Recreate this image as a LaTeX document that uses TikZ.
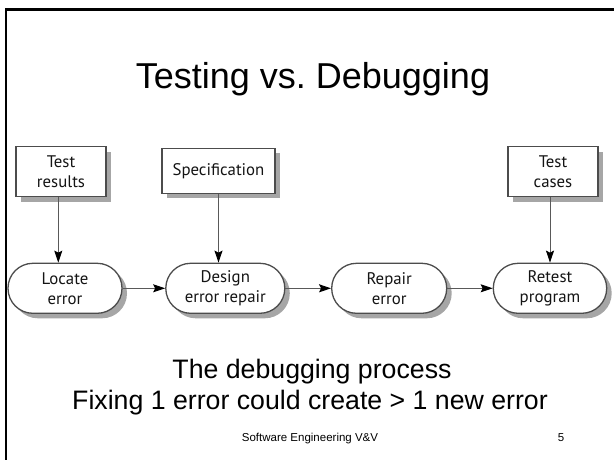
\documentclass[tikz,border=0pt]{standalone}
\usepackage{fontspec}
\setmainfont{Liberation Sans}
\newfontfamily\diagfont{PT Sans}
\usetikzlibrary{arrows.meta,shadows}
\begin{document}
\frenchspacing
\begin{tikzpicture}[x=1pt,y=1pt,
  inbox/.style={draw=black!70, line width=1.3pt, fill=white,
    font=\diagfont\fontsize{16.8}{20}\selectfont, text=black!92, align=center, inner sep=0pt,
    drop shadow={shadow xshift=5pt, shadow yshift=-5pt, fill=black!35, opacity=1}},
  procbox/.style={inbox, rounded corners=24.9pt, minimum height=50pt},
  databox/.style={inbox, minimum height=50pt, minimum width=90pt},
  arr/.style={draw=black!65, line width=1pt, -{Stealth[length=12pt,width=8pt,inset=2pt,color=black]}},
  slidetext/.style={anchor=base, inner sep=0pt}
]
\useasboundingbox[fill=white] (0,0) rectangle (614,459);
\draw[line width=2.5pt, line join=miter] (6.2,-3) -- (6.2,449.5) -- (617,449.5);

\node[slidetext, font=\fontsize{36}{43}\selectfont] (title) at (313,370) {Testing vs.\ Debugging};

\node[databox] (tr) at (61,287.3) {Test\\results};
\node[databox, minimum width=113pt, minimum height=45pt] (sp) at (218.5,288.3) {Specification};
\node[databox] (tc) at (553,287.3) {Test\\cases};

\node[procbox, minimum width=114pt] (le) at (65,170.7) {Locate\\error};
\node[procbox, minimum width=119pt] (de) at (225.3,170.7) {Design\\error repair};
\node[procbox, minimum width=115pt] (re) at (389.2,170.7) {Repair\\error};
\node[procbox, minimum width=113.4pt] (rp) at (550,170.7) {Retest\\program};

\draw[arr] ([xshift=-2.7pt]tr.south) -- ([xshift=-2.7pt]tr.south |- le.north);
\draw[arr] (sp.south) -- (sp.south |- de.north);
\draw[arr] (tc.south -| rp.north) -- (rp.north);
\draw[arr] (le.east) -- (de.west);
\draw[arr] (de.east) -- (re.west);
\draw[arr] (re.east) -- (rp.west);

\node[slidetext, font=\fontsize{26.7}{32}\selectfont] (sub1) at (312,81) {The debugging process};
\node[slidetext, font=\fontsize{26.7}{32}\selectfont] (sub2) at (310,49.5) {Fixing 1 error could create > 1 new error};
\node[slidetext, font=\fontsize{11.5}{14}\selectfont] (foot) at (310,17.3) {Software Engineering V\&V};
\node[slidetext, font=\fontsize{11.5}{14}\selectfont] (num) at (561,17.3) {5};
\end{tikzpicture}
\end{document}
